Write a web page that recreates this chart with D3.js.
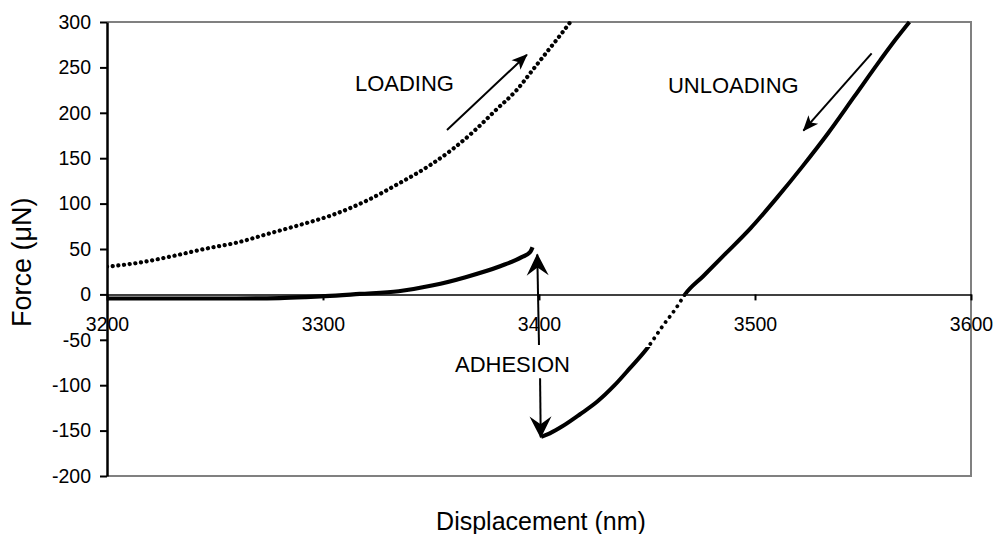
<!DOCTYPE html>
<html>
<head>
<meta charset="utf-8">
<script src="https://cdn.jsdelivr.net/npm/d3@7"></script>
<style>
  body { margin: 0; background: #fff; }
  svg { display: block; font-family: "Liberation Sans", Arial, sans-serif; }
</style>
</head>
<body>
<svg id="chart" width="994" height="534"></svg>
<script>
// loading branch (upper, dotted)
const loadX = [3200, 3215, 3230, 3245, 3260, 3275, 3290, 3305, 3320, 3335, 3350, 3360, 3370, 3380, 3390, 3397, 3404, 3410, 3414.5];
const loadY = [30.5, 35, 42, 50, 57, 67, 77, 88, 103, 122, 143, 160, 180, 203, 226, 247, 268, 286, 300];

// approach branch (near zero, dense)
const apprX = [3200, 3230, 3260, 3280, 3292, 3301, 3317, 3335, 3351, 3366, 3382, 3392, 3396, 3397];
const apprY = [-4.5, -4.5, -4.5, -4, -3, -2, 0.5, 3.5, 10, 19, 31, 41, 47, 52];

// unloading branch (dense, sparse between sparseLo and 0)
const unloadX = [3401, 3405, 3411, 3419, 3427, 3435, 3442, 3450, 3457.5, 3463.5, 3467.6, 3476, 3486, 3498, 3510, 3522, 3534, 3546, 3558, 3565.5, 3571.5];
const unloadY = [-157, -153, -145, -132, -118, -100, -81.5, -59.5, -34, -15, 0, 20, 44, 73, 106, 141, 178, 218, 258, 282, 300];
const sparseLo = -58;

const xTicks = [3200, 3300, 3400, 3500, 3600];
const yTicks = [-200, -150, -100, -50, 0, 50, 100, 150, 200, 250, 300];

const labels = [
  { text: "LOADING", x: 3314.8, y: 223.5 },
  { text: "UNLOADING", x: 3459.7, y: 221.5 },
  { text: "ADHESION", x: 3361.1, y: -85.1 }
];
const arrows = [
  { x1: 3357.4, y1: 181, x2: 3394.4, y2: 264, head: "small" },
  { x1: 3554, y1: 265.5, x2: 3522.4, y2: 180.3, head: "small" },
  { x1: 3400, y1: -55.7, x2: 3399.2, y2: 44, head: "big" },
  { x1: 3400.5, y1: -92.4, x2: 3400.8, y2: -157.4, head: "big" }
];

const plotLeft = 107, plotRight = 971, plotTop = 22, plotBottom = 476;
const x = d3.scaleLinear().domain([3200, 3600]).range([plotLeft, plotRight]);
const y = d3.scaleLinear().domain([-200, 300]).range([plotBottom, plotTop]);

const svg = d3.select("#chart");
const defs = svg.append("defs");

defs.append("clipPath").attr("id", "plot")
  .append("rect")
  .attr("x", plotLeft).attr("y", plotTop - 3)
  .attr("width", plotRight - plotLeft).attr("height", plotBottom - plotTop + 3);

// solid part of unloading = outside the sparse band, dotted part = inside it
const solidClip = defs.append("clipPath").attr("id", "solid");
solidClip.append("rect")
  .attr("x", plotLeft).attr("y", plotTop - 3)
  .attr("width", plotRight - plotLeft).attr("height", y(0) - plotTop + 3);
solidClip.append("rect")
  .attr("x", plotLeft).attr("y", y(sparseLo))
  .attr("width", plotRight - plotLeft).attr("height", plotBottom - y(sparseLo));
defs.append("clipPath").attr("id", "sparse")
  .append("rect")
  .attr("x", plotLeft).attr("y", y(0))
  .attr("width", plotRight - plotLeft).attr("height", y(sparseLo) - y(0));

defs.append("marker")
  .attr("id", "head-small")
  .attr("viewBox", "-17 -8 18 16")
  .attr("markerWidth", 18).attr("markerHeight", 16)
  .attr("markerUnits", "userSpaceOnUse")
  .attr("refX", 0).attr("refY", 0)
  .attr("orient", "auto")
  .append("path")
  .attr("d", "M1,0 L-15,-6.5 L-11,0 L-15,6.5 Z")
  .attr("fill", "#000");

defs.append("marker")
  .attr("id", "head-big")
  .attr("viewBox", "-23 -12 25 24")
  .attr("markerWidth", 25).attr("markerHeight", 24)
  .attr("markerUnits", "userSpaceOnUse")
  .attr("refX", 0).attr("refY", 0)
  .attr("orient", "auto")
  .append("path")
  .attr("d", "M1,0 L-21,-11 L-13,0 L-21,11 Z")
  .attr("fill", "#000");

// frame
svg.append("path")
  .attr("d", `M${plotLeft},${plotTop}H${plotRight}V${plotBottom}H${plotLeft}`)
  .attr("fill", "none")
  .attr("stroke", "#808080")
  .attr("stroke-width", 2);

// y axis
const yAxis = svg.append("g")
  .attr("transform", `translate(${plotLeft},0)`)
  .call(d3.axisLeft(y).tickValues(yTicks).tickFormat(d => String(d))
    .tickSize(7).tickSizeOuter(0).tickPadding(9));
yAxis.select(".domain").attr("stroke", "#000").attr("stroke-width", 2.5);
yAxis.selectAll(".tick line").attr("stroke", "#000").attr("stroke-width", 2);
yAxis.selectAll(".tick text")
  .attr("font-size", 19.5)
  .attr("font-family", "Liberation Sans, Arial, sans-serif")
  .attr("fill", "#000");

// x axis on y = 0
const xAxis = svg.append("g")
  .attr("transform", `translate(0,${y(0)})`)
  .call(d3.axisBottom(x).tickValues(xTicks).tickFormat(d => String(d))
    .tickSize(6).tickSizeOuter(0).tickPadding(17));
xAxis.select(".domain").attr("stroke", "#000").attr("stroke-width", 1.5);
xAxis.selectAll(".tick line").attr("stroke", "#000").attr("stroke-width", 2);
xAxis.selectAll(".tick text")
  .attr("font-size", 19.5)
  .attr("font-family", "Liberation Sans, Arial, sans-serif")
  .attr("fill", "#000");

// curves
const line = d3.line()
  .x(d => x(d[0]))
  .y(d => y(d[1]))
  .curve(d3.curveMonotoneX);

const curves = svg.append("g").attr("clip-path", "url(#plot)");
const loading = loadX.map((v, i) => [v, loadY[i]]);
const approach = apprX.map((v, i) => [v, apprY[i]]);
const unloading = unloadX.map((v, i) => [v, unloadY[i]]);

curves.append("path")
  .attr("d", line(loading))
  .attr("fill", "none")
  .attr("stroke", "#000")
  .attr("stroke-width", 4.2)
  .attr("stroke-linecap", "round")
  .attr("stroke-dasharray", "0.1 5.6");

curves.append("path")
  .attr("d", line(approach))
  .attr("fill", "none")
  .attr("stroke", "#000")
  .attr("stroke-width", 4.2);

curves.append("g").attr("clip-path", "url(#solid)")
  .append("path")
  .attr("d", line(unloading))
  .attr("fill", "none")
  .attr("stroke", "#000")
  .attr("stroke-width", 4);

curves.append("g").attr("clip-path", "url(#sparse)")
  .append("path")
  .attr("d", line(unloading))
  .attr("fill", "none")
  .attr("stroke", "#000")
  .attr("stroke-width", 3.8)
  .attr("stroke-linecap", "round")
  .attr("stroke-dasharray", "0.1 6.5");

// annotations
svg.append("g").selectAll("line")
  .data(arrows)
  .join("line")
  .attr("x1", d => x(d.x1)).attr("y1", d => y(d.y1))
  .attr("x2", d => x(d.x2)).attr("y2", d => y(d.y2))
  .attr("stroke", "#000")
  .attr("stroke-width", 2)
  .attr("marker-end", d => `url(#head-${d.head})`);

svg.append("g").selectAll("text")
  .data(labels)
  .join("text")
  .attr("x", d => x(d.x))
  .attr("y", d => y(d.y))
  .attr("font-size", 22)
  .attr("fill", "#000")
  .text(d => d.text);

// axis titles
svg.append("text")
  .attr("x", 541)
  .attr("y", 530)
  .attr("text-anchor", "middle")
  .attr("font-size", 25)
  .text("Displacement (nm)");

svg.append("text")
  .attr("transform", "translate(31,327) rotate(-90)")
  .attr("font-size", 27)
  .text("Force (\u03bcN)");
</script>
</body>
</html>
